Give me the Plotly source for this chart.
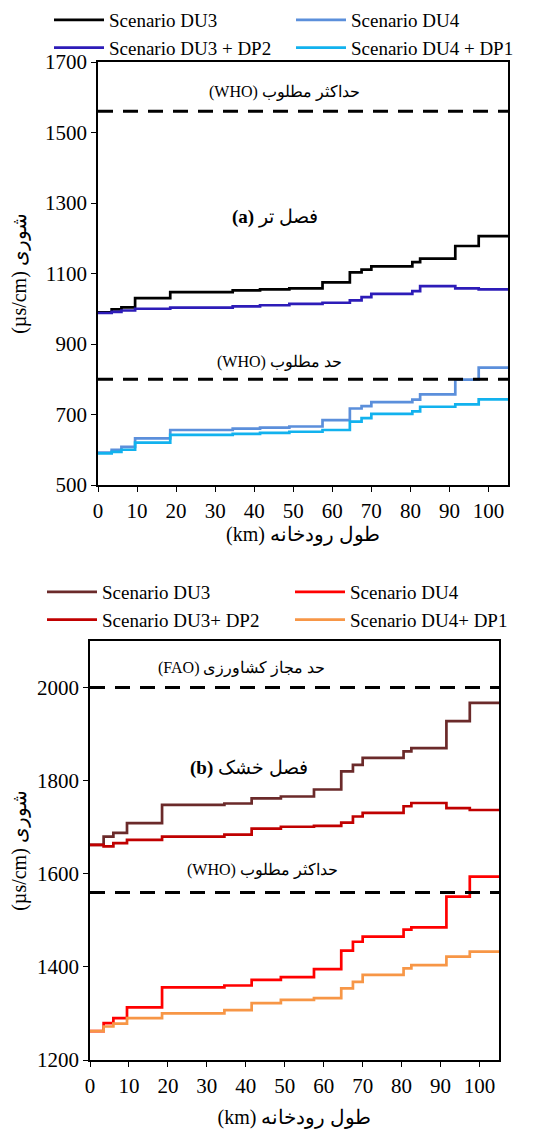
import plotly.graph_objects as go

# ---------------- data ----------------
KM = [0, 3.5, 6, 9.5, 18.5, 34.5, 41.5, 49, 57.5, 64.5, 67.5, 70, 80.5, 82.5, 91.5, 97.5, 105]

# panel (a) wet season
A_DU3 = [990, 998, 1004, 1030, 1047, 1052, 1055, 1058, 1075, 1103, 1111, 1120, 1132, 1142, 1178, 1206, 1206]
A_DU4 = [592, 600, 608, 632, 656, 660, 663, 666, 684, 717, 724, 735, 742, 757, 799, 833, 833]
A_DU3_DP2 = [988, 991, 995, 1000, 1003, 1007, 1010, 1014, 1017, 1024, 1033, 1042, 1050, 1064, 1058, 1055, 1055]
A_DU4_DP1 = [590, 594, 600, 620, 642, 645, 648, 651, 656, 680, 690, 702, 709, 722, 729, 743, 743]

# panel (b) dry season
B_DU3 = [1662, 1680, 1688, 1709, 1748, 1751, 1762, 1766, 1781, 1820, 1834, 1849, 1863, 1870, 1928, 1967, 1965]
B_DU4 = [1262, 1279, 1290, 1313, 1356, 1360, 1372, 1378, 1395, 1435, 1454, 1465, 1480, 1485, 1551, 1594, 1594]
B_DU3_DP2 = [1662, 1659, 1666, 1673, 1680, 1684, 1697, 1701, 1703, 1710, 1723, 1731, 1745, 1752, 1741, 1737, 1737]
B_DU4_DP1 = [1262, 1272, 1278, 1290, 1300, 1307, 1322, 1329, 1333, 1354, 1368, 1383, 1397, 1404, 1422, 1433, 1433]

LIMIT_X = [0, 105]
A_WHO_MAX = [1560, 1560]
A_WHO_DES = [800, 800]
B_FAO = [2000, 2000]
B_WHO_MAX = [1560, 1560]

NAMES_A = ["Scenario DU3", "Scenario DU4", "Scenario DU3 + DP2", "Scenario DU4 + DP1"]
NAMES_B = ["Scenario DU3", "Scenario DU4", "Scenario DU3+ DP2", "Scenario DU4+ DP1"]
COLORS_A = ["#000000", "#5B8FDB", "#2D1CB8", "#12B2EE"]
COLORS_B = ["#6B2A2A", "#FF0000", "#C00000", "#F79646"]

SERIF = "Liberation Serif"
W, H = 550, 1131
PAGE = 8  # body margin of the html page


def px_x(p):
    return (p - PAGE) / W


def px_y(p):
    return 1 - (p - PAGE) / H


fig = go.Figure()

for name, vals, col in zip(NAMES_A, [A_DU3, A_DU4, A_DU3_DP2, A_DU4_DP1], COLORS_A):
    fig.add_trace(go.Scatter(x=KM, y=vals, mode="lines", name=name, line=dict(color=col, width=2.7, shape="hv"),
                             xaxis="x", yaxis="y", legend="legend"))
for yv in [A_WHO_MAX, A_WHO_DES]:
    fig.add_trace(go.Scatter(x=LIMIT_X, y=yv, mode="lines", showlegend=False,
                             line=dict(color="black", width=3, dash="15px,10px"), xaxis="x", yaxis="y"))

for name, vals, col in zip(NAMES_B, [B_DU3, B_DU4, B_DU3_DP2, B_DU4_DP1], COLORS_B):
    fig.add_trace(go.Scatter(x=KM, y=vals, mode="lines", name=name, line=dict(color=col, width=2.7, shape="hv"),
                             xaxis="x2", yaxis="y2", legend="legend2"))
for yv in [B_FAO, B_WHO_MAX]:
    fig.add_trace(go.Scatter(x=LIMIT_X, y=yv, mode="lines", showlegend=False,
                             line=dict(color="black", width=3, dash="15px,10px"), xaxis="x2", yaxis="y2"))

axis_common = dict(showline=True, linecolor="black", linewidth=1.5, mirror=True, ticks="outside",
                   ticklen=5, tickcolor="black", showgrid=False, zeroline=False,
                   tickfont=dict(family=SERIF, size=21, color="black"))
title_font = dict(family=SERIF, size=20, color="black")

fig.update_layout(
    width=W, height=H, margin=dict(l=0, r=0, t=0, b=0, autoexpand=False),
    paper_bgcolor="white", plot_bgcolor="white",
    xaxis=dict(domain=[px_x(98), px_x(508)], range=[0, 105], tick0=0, dtick=10, anchor="y",
               ticklabelstandoff=1,
               title=dict(text="(km) طول رودخانه", font=title_font, standoff=0),
               **axis_common),
    yaxis=dict(domain=[px_y(485), px_y(62)], range=[500, 1700], tick0=500, dtick=200, anchor="x",
               title=dict(text="(µs/cm) شوری", font=title_font, standoff=22),
               **axis_common),
    xaxis2=dict(domain=[px_x(90), px_x(499)], range=[0, 105], tick0=0, dtick=10, anchor="y2",
                ticklabelstandoff=1,
                title=dict(text="(km) طول رودخانه", font=title_font, standoff=13),
                **axis_common),
    yaxis2=dict(domain=[px_y(1060), px_y(641)], range=[1200, 2100], tickvals=[1200, 1400, 1600, 1800, 2000],
                anchor="x2",
                title=dict(text="(µs/cm) شوری", font=title_font, standoff=22),
                **axis_common),
    legend=dict(orientation="h", x=px_x(41 + PAGE), xanchor="left", y=px_y(-7 + PAGE), yanchor="top",
                entrywidth=177, entrywidthmode="pixels", itemwidth=50, bgcolor="rgba(0,0,0,0)",
                font=dict(family=SERIF, size=19, color="black"), traceorder="normal"),
    legend2=dict(orientation="h", x=px_x(34 + PAGE), xanchor="left", y=px_y(565 + PAGE), yanchor="top",
                 entrywidth=183, entrywidthmode="pixels", itemwidth=50, bgcolor="rgba(0,0,0,0)",
                 font=dict(family=SERIF, size=19, color="black"), traceorder="normal"),
)

annots = [
    dict(x=47.8, y=1615, xref="x", yref="y", text="(WHO) حداکثر مطلوب"),
    dict(x=45.3, y=1260, xref="x", yref="y", text="<b>(a)</b> فصل تر", size=19),
    dict(x=46.5, y=849, xref="x", yref="y", text="(WHO) حد مطلوب"),
    dict(x=39.0, y=2043, xref="x2", yref="y2", text="(FAO) حد مجاز کشاورزی"),
    dict(x=40.8, y=1828, xref="x2", yref="y2", text="<b>(b)</b> فصل خشک", size=19),
    dict(x=44.4, y=1609, xref="x2", yref="y2", text="(WHO) حداکثر مطلوب"),
]
for a in annots:
    size = a.pop("size", 16)
    fig.add_annotation(**a, showarrow=False, font=dict(family=SERIF, size=size, color="black"))

fig.write_html("out.html")
